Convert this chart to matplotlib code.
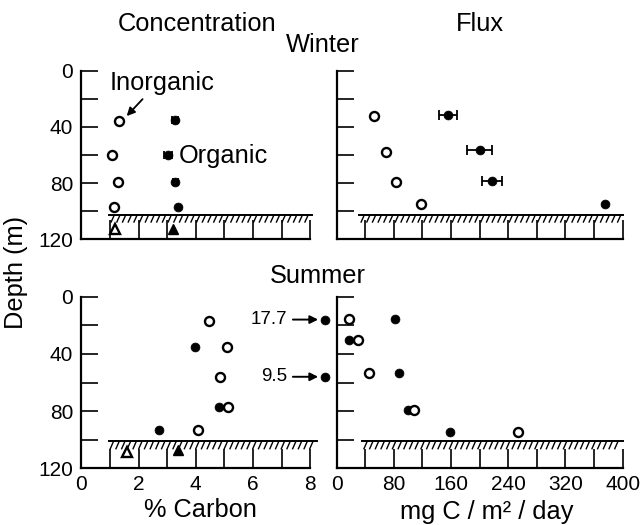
import matplotlib
matplotlib.use('Agg')
import matplotlib.pyplot as plt
import numpy as np

plt.rcParams['font.family'] = ['Liberation Sans', 'DejaVu Sans']

# ---------------- data ----------------
# Winter, concentration (% carbon)
w_conc_inorg_depth = [36, 60, 79, 97]
w_conc_inorg = [1.30, 1.08, 1.27, 1.14]
w_conc_org_depth = [35, 60, 79, 97]
w_conc_org = [3.27, 3.03, 3.29, 3.38]
w_conc_org_err = [0.10, 0.15, 0.10, 0.0]
w_sed_depth = [112.5, 112.5]
w_sed_conc = [1.18, 3.20]          # inorganic, organic (sediment)

# Winter, flux (mg C / m2 / day)
w_flux_inorg_depth = [32.5, 58, 79, 95]
w_flux_inorg = [53, 69.5, 83, 118]
w_flux_org_depth = [31.3, 56.5, 78.4, 95]
w_flux_org = [155.5, 200, 218, 375.5]
w_flux_org_err = [12.4, 17, 14, 0]

# Summer, concentration (% carbon)
s_conc_inorg_depth = [17, 35, 56, 77, 93.5]
s_conc_inorg = [4.46, 5.08, 4.85, 5.11, 4.09]
s_conc_org_depth = [16, 35, 56, 77, 93.5]
s_conc_org = [17.7, 3.97, 9.5, 4.82, 2.72]
s_sed_depth = [108.6, 107.4]
s_sed_conc = [1.58, 3.39]          # inorganic, organic (sediment)

# Summer, flux
s_flux_inorg_depth = [15.6, 30.3, 53.2, 79.4, 94.6]
s_flux_inorg = [18, 30.6, 45.6, 109, 254]
s_flux_org_depth = [15.6, 30.3, 53.6, 79.4, 94.6]
s_flux_org = [82, 18, 87.7, 99.4, 158]

# ---------------- layout ----------------
W, H = 644, 525
fig = plt.figure(figsize=(W / 100, H / 100), dpi=100)


def px_axes(x0, x1, ytop, ybot):
    return fig.add_axes([x0 / W, 1 - ybot / H, (x1 - x0) / W, (ybot - ytop) / H])


ax_wc = px_axes(81.4, 310.2, 70.7, 239.3)
ax_wf = px_axes(336.5, 622.7, 70.7, 239.3)
ax_sc = px_axes(81.4, 310.2, 296.7, 468.3)
ax_sf = px_axes(336.5, 622.7, 296.7, 468.3)

FS = 18.3
TFS = 15
OPEN = dict(marker='o', ms=6.5, mfc='white', mec='black', mew=1.7, ls='none', zorder=4)
FILL = dict(marker='o', ms=6.4, mfc='black', mec='black', mew=0.5, ls='none', zorder=3)


def style(ax, kind, show_x, show_y):
    ax.set_ylim(120, 0)
    for s in ('top', 'right'):
        ax.spines[s].set_visible(False)
    for s in ('left', 'bottom'):
        ax.spines[s].set_linewidth(1.6)
    ax.set_yticks(np.arange(0, 121, 20))
    ax.set_yticklabels([str(v) if v % 40 == 0 else '' for v in range(0, 121, 20)]
                       if show_y else [])
    if kind == 'conc':
        ax.set_xlim(0, 8)
        ax.set_xticks(np.arange(0, 9, 1))
        labs = [str(v) if v % 2 == 0 else '' for v in range(9)]
    else:
        ax.set_xlim(0, 400)
        ax.set_xticks(np.arange(0, 401, 40))
        labs = [str(v) if v % 80 == 0 else '' for v in range(0, 401, 40)]
    ax.set_xticklabels(labs if show_x else [])
    ax.tick_params(axis='y', direction='in', length=12.5, width=1.2, pad=6, labelsize=TFS)
    ax.tick_params(axis='x', direction='in', length=13.5, width=1.2, pad=5, labelsize=TFS)


def sediment(ax, x0, x1, top, bot, px_per_unit):
    ax.plot([x0, x1], [top, top], color='black', lw=1.4, clip_on=False, zorder=2)
    step = 5.7 / px_per_unit
    dx = 3.2 / px_per_unit
    for x in np.arange(x0 + 0.3 * step, x1 - dx, step):
        ax.plot([x, x + dx], [bot, top], color='black', lw=1.0, clip_on=False, zorder=2)


CPX = 28.6     # px per % carbon
FPX = 0.7155   # px per flux unit

for ax in (ax_wc, ax_sc):
    style(ax, 'conc', ax is ax_sc, True)
for ax in (ax_wf, ax_sf):
    style(ax, 'flux', ax is ax_sf, False)

sediment(ax_wc, 0.98, 8.05, 102.7, 107.7, CPX)
sediment(ax_wf, 32, 400, 102.7, 107.7, FPX)
sediment(ax_sc, 0.95, 8.25, 101.2, 106.3, CPX)
sediment(ax_sf, 36, 400, 101.2, 106.3, FPX)

# ---- Winter concentration ----
for x, y, e in zip(w_conc_org, w_conc_org_depth, w_conc_org_err):
    if e > 0:
        ax_wc.errorbar(x, y, xerr=e, fmt='none', ecolor='black', elinewidth=1.3,
                       capsize=2.6, capthick=1.3, zorder=3)
ax_wc.plot(w_conc_org, w_conc_org_depth, **FILL)
ax_wc.plot(w_conc_inorg, w_conc_inorg_depth, **OPEN)
ax_wc.plot(w_sed_conc[0], w_sed_depth[0], marker='^', ms=7.5, mfc='white', mec='black',
           mew=1.7, ls='none', zorder=4)
ax_wc.plot(w_sed_conc[1], w_sed_depth[1], marker='^', ms=7.5, mfc='black', mec='black',
           ls='none', zorder=4)
ax_wc.annotate('Inorganic', xy=(1.55, 33), xytext=(0.98, 9), fontsize=FS,
               ha='left', va='center',
               arrowprops=dict(arrowstyle='-|>', color='black', lw=1.3, shrinkA=1,
                               shrinkB=1, mutation_scale=12, relpos=(0.35, 0.0)))
ax_wc.text(3.42, 60.5, 'Organic', fontsize=FS, ha='left', va='center')

# ---- Winter flux ----
for x, y, e in zip(w_flux_org, w_flux_org_depth, w_flux_org_err):
    if e > 0:
        ax_wf.errorbar(x, y, xerr=e, fmt='none', ecolor='black', elinewidth=1.3,
                       capsize=3.6, capthick=1.3, zorder=3)
ax_wf.plot(w_flux_org, w_flux_org_depth, **FILL)
ax_wf.plot(w_flux_inorg, w_flux_inorg_depth, **OPEN)

# ---- Summer concentration ----
OFFSCALE_X = 8.52
xmax = ax_sc.get_xlim()[1]
on = [(x, y) for x, y in zip(s_conc_org, s_conc_org_depth) if x <= xmax]
off = [(x, y) for x, y in zip(s_conc_org, s_conc_org_depth) if x > xmax]
ax_sc.plot([p[0] for p in on], [p[1] for p in on], **FILL)
for v, y in off:
    ax_sc.plot(OFFSCALE_X, y, clip_on=False, **FILL)
    ax_sc.annotate(f'{v}', xy=(OFFSCALE_X, y), xytext=(7.2, y), fontsize=13.5,
                   ha='right', va='center', annotation_clip=False,
                   arrowprops=dict(arrowstyle='-|>', color='black', lw=1.4,
                                   shrinkA=2, shrinkB=5, mutation_scale=12,
                                   relpos=(1.0, 0.5)))
ax_sc.plot(s_conc_inorg, s_conc_inorg_depth, **OPEN)
ax_sc.plot(s_sed_conc[0], s_sed_depth[0], marker='^', ms=7.5, mfc='white', mec='black',
           mew=1.7, ls='none', zorder=4)
ax_sc.plot(s_sed_conc[1], s_sed_depth[1], marker='^', ms=7.5, mfc='black', mec='black',
           ls='none', zorder=4)

# ---- Summer flux ----
ax_sf.plot(s_flux_org, s_flux_org_depth, **FILL)
ax_sf.plot(s_flux_inorg, s_flux_inorg_depth, **OPEN)

# ---------------- text ----------------
fig.text(197 / W, 1 - 24 / H, 'Concentration', fontsize=FS, ha='center', va='center')
fig.text(480 / W, 1 - 24 / H, 'Flux', fontsize=FS, ha='center', va='center')
fig.text(323 / W, 1 - 45 / H, 'Winter', fontsize=FS, ha='center', va='center')
fig.text(318 / W, 1 - 276 / H, 'Summer', fontsize=FS, ha='center', va='center')
fig.text(16 / W, 1 - 272 / H, 'Depth (m)', fontsize=FS, ha='center', va='center',
         rotation=90)
fig.text(200 / W, 1 - 517 / H, '% Carbon', fontsize=FS, ha='center', va='baseline')
fig.text(487 / W, 1 - 519 / H, 'mg C / m² / day', fontsize=FS, ha='center',
         va='baseline')

fig.savefig('out.png', dpi=100)
